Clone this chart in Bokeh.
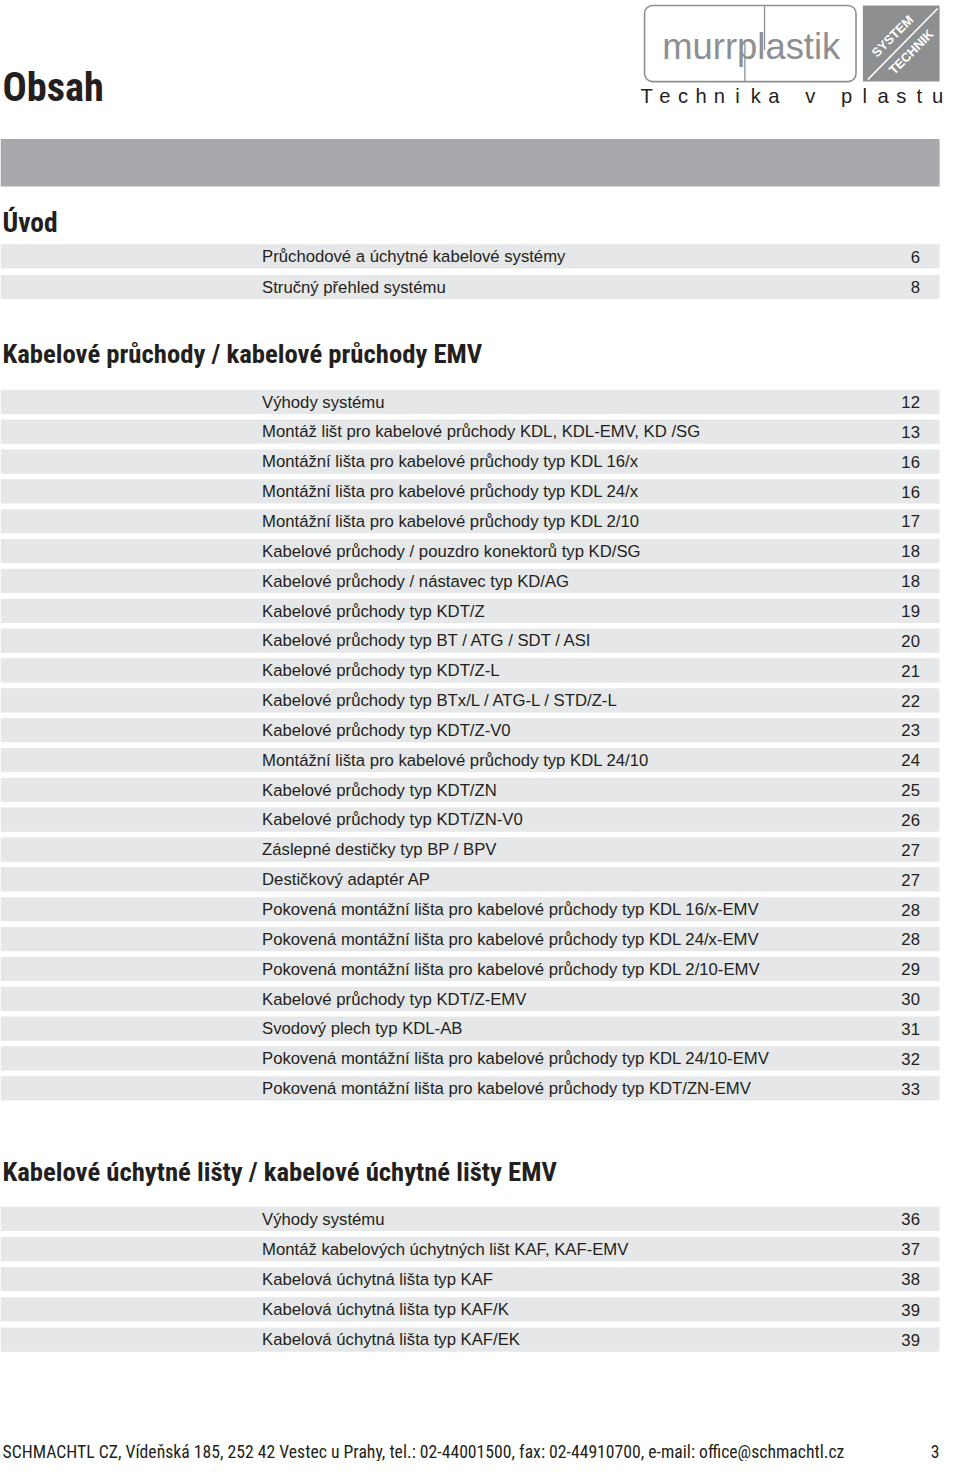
from bokeh.plotting import figure
from bokeh.models import Range1d
from bokeh.embed import file_html
from bokeh.resources import INLINE
from bokeh.core.properties import value

# ---------------- data ----------------
page_title = "Obsah"
slogan = "Technika v plastu"
brand = "murrplastik"

sec1_title = "Úvod"
sec1_items = ["Průchodové a úchytné kabelové systémy", "Stručný přehled systému"]
sec1_pages = ["6", "8"]

sec2_title = "Kabelové průchody / kabelové průchody EMV"
sec2_items = [
    "Výhody systému",
    "Montáž lišt pro kabelové průchody KDL, KDL-EMV, KD /SG",
    "Montážní lišta pro kabelové průchody typ KDL 16/x",
    "Montážní lišta pro kabelové průchody typ KDL 24/x",
    "Montážní lišta pro kabelové průchody typ KDL 2/10",
    "Kabelové průchody / pouzdro konektorů typ KD/SG",
    "Kabelové průchody / nástavec typ KD/AG",
    "Kabelové průchody typ KDT/Z",
    "Kabelové průchody typ BT / ATG / SDT / ASI",
    "Kabelové průchody typ KDT/Z-L",
    "Kabelové průchody typ BTx/L / ATG-L / STD/Z-L",
    "Kabelové průchody typ KDT/Z-V0",
    "Montážní lišta pro kabelové průchody typ KDL 24/10",
    "Kabelové průchody typ KDT/ZN",
    "Kabelové průchody typ KDT/ZN-V0",
    "Záslepné destičky typ BP / BPV",
    "Destičkový adaptér AP",
    "Pokovená montážní lišta pro kabelové průchody typ KDL 16/x-EMV",
    "Pokovená montážní lišta pro kabelové průchody typ KDL 24/x-EMV",
    "Pokovená montážní lišta pro kabelové průchody typ KDL 2/10-EMV",
    "Kabelové průchody typ KDT/Z-EMV",
    "Svodový plech typ KDL-AB",
    "Pokovená montážní lišta pro kabelové průchody typ KDL 24/10-EMV",
    "Pokovená montážní lišta pro kabelové průchody typ KDT/ZN-EMV",
]
sec2_pages = ["12", "13", "16", "16", "17", "18", "18", "19", "20", "21", "22", "23",
              "24", "25", "26", "27", "27", "28", "28", "29", "30", "31", "32", "33"]

sec3_title = "Kabelové úchytné lišty / kabelové úchytné lišty EMV"
sec3_items = [
    "Výhody systému",
    "Montáž kabelových úchytných lišt KAF, KAF-EMV",
    "Kabelová úchytná lišta typ KAF",
    "Kabelová úchytná lišta typ KAF/K",
    "Kabelová úchytná lišta typ KAF/EK",
]
sec3_pages = ["36", "37", "38", "39", "39"]

footer_text = "SCHMACHTL CZ, Vídeňská 185, 252 42 Vestec u Prahy, tel.: 02-44001500, fax: 02-44910700, e-mail: office@schmachtl.cz"
footer_page = "3"

# ---------------- layout ----------------
W, H = 944, 1461
S = W / 960.0
INK = "#231f20"
BAND = "#e6e7e8"
BAR = "#a7a9ac"
LOGO_GRAY = "#8d8f91"
BODY = value("Liberation Sans, Arial, Helvetica, sans-serif")
COND = value("Roboto Condensed, DejaVu Sans Condensed, sans-serif")

p = figure(width=W, height=H, x_range=Range1d(0, 960), y_range=Range1d(1477, 0),
           output_backend="svg", toolbar_location=None, min_border=0,
           background_fill_color="white", border_fill_color="white")
p.axis.visible = False
p.grid.visible = False
p.outline_line_color = None


def fs(px):
    return f"{px * S:.1f}px"


# title
p.text(x=[2], y=[88], text=[page_title], text_font=COND, text_font_style="bold",
       text_font_size=fs(41), text_color=INK, text_baseline="middle", text_align="left")

# logo
p.quad(left=[655], right=[870], top=[5], bottom=[82], fill_color=None,
       line_color=LOGO_GRAY, line_width=1.6, border_radius=8)
p.text(x=[673], y=[46], text=[brand], text_font=BODY, text_font_size=fs(37),
       text_color=LOGO_GRAY, text_baseline="middle", text_align="left")
p.segment(x0=[777, 757], y0=[5, 40], x1=[777, 757], y1=[50, 82],
          line_color=LOGO_GRAY, line_width=1.3)
p.quad(left=[877], right=[955], top=[5], bottom=[82], fill_color=LOGO_GRAY,
       line_color=None)
p.segment(x0=[882], y0=[80], x1=[953], y1=[8], line_color="white", line_width=1.5)
p.text(x=[907, 926], y=[36, 52], text=["SYSTEM", "TECHNIK"], text_font=BODY,
       text_font_style="bold", text_font_size=fs(13), text_color="white",
       angle=0.785, text_align="center", text_baseline="middle")
chars = list(slogan)
step = (953 - 657) / (len(chars) - 1)
p.text(x=[657 + i * step for i in range(len(chars))], y=[97] * len(chars), text=chars,
       text_font=BODY, text_font_size=fs(20.5), text_color=INK,
       text_align="center", text_baseline="middle")

# grey bar
p.quad(left=[0], right=[955], top=[140], bottom=[188], fill_color=BAR, line_color=None)


def section(title, title_y, title_size, items, pages, first_y, spacing):
    p.text(x=[2], y=[title_y], text=[title], text_font=COND, text_font_style="bold",
           text_font_size=fs(title_size), text_color=INK, text_baseline="middle",
           text_align="left")
    ys = [first_y + i * spacing for i in range(len(items))]
    p.quad(left=[0] * len(ys), right=[955] * len(ys), top=[y - 12.5 for y in ys],
           bottom=[y + 12 for y in ys], fill_color=BAND, line_color=None)
    p.text(x=[266] * len(ys), y=ys, text=items, text_font=BODY, text_font_size=fs(17),
           text_color=INK, text_baseline="middle", text_align="left")
    p.text(x=[935] * len(ys), y=ys, text=pages, text_font=BODY, text_font_size=fs(17),
           text_color=INK, text_baseline="middle", text_align="right")


section(sec1_title, 224, 28, sec1_items, sec1_pages, 259, 31)
section(sec2_title, 357, 27.2, sec2_items, sec2_pages, 406, (1100 - 406) / 23)
section(sec3_title, 1184, 27.2, sec3_items, sec3_pages, 1232, (1354 - 1232) / 4)

# footer
p.text(x=[2], y=[1467], text=[footer_text], text_font=COND, text_font_size=fs(18),
       text_color=INK, text_baseline="middle", text_align="left")
p.text(x=[955], y=[1467], text=[footer_page], text_font=COND, text_font_size=fs(18),
       text_color=INK, text_baseline="middle", text_align="right")

open("out.html", "w").write(file_html(p, INLINE))
